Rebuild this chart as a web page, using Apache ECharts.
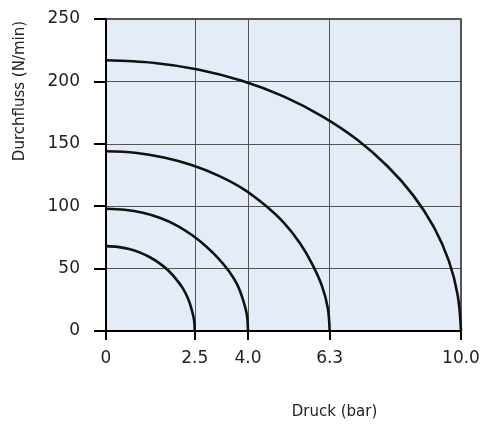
<!DOCTYPE html>
<html>
<head>
<meta charset="utf-8">
<script src="https://cdn.jsdelivr.net/npm/echarts@6/dist/echarts.min.js"></script>
<style>html,body{margin:0;padding:0;background:#fff}#c{width:484px;height:425px}</style>
</head>
<body>
<div id="c"></div>
<script>
var xTicks = [0, 2.5, 4.0, 6.3, 10.0];
var xTickLabels = ['0', '2.5', '4.0', '6.3', '10.0'];
var yTicks = [0, 50, 100, 150, 200, 250];

var c1x = [0, 0.33, 0.65, 0.96, 1.25, 1.52, 1.77, 1.98, 2.17, 2.31, 2.41, 2.48, 2.5];
var c1y = [68, 67.4, 65.7, 62.8, 58.9, 54, 48.1, 41.4, 34, 26, 17.6, 8.9, 0];

var c2x = [0, 0.52, 1.04, 1.53, 2.0, 2.44, 2.83, 3.17, 3.46, 3.70, 3.86, 3.97, 4.0];
var c2y = [98, 97.2, 94.7, 90.5, 84.5, 76.5, 67.5, 58, 48, 37, 25, 12.6, 0];

var c3x = [0, 0.82, 1.63, 2.41, 3.15, 3.84, 4.45, 5.0, 5.46, 5.82, 6.09, 6.25, 6.3];
var c3y = [144, 142.8, 139, 133, 124.7, 114.3, 101.5, 87, 70.5, 53, 35.5, 18, 0];

var c4x = [0, 1.31, 2.59, 3.83, 5.0, 6.09, 7.07, 7.93, 8.66, 9.24, 9.66, 9.91, 10.0];
var c4y = [217, 215, 209.6, 200.5, 188, 172, 153.4, 132, 108.5, 83, 56, 28.3, 0];

function pairs(xs, ys) { return xs.map(function (v, i) { return [v, ys[i]]; }); }

var chart = echarts.init(document.getElementById('c'), null, {renderer: 'canvas'});
var curveStyle = {color: '#111', width: 2.6};
function curve(xs, ys) {
  return {type: 'line', data: pairs(xs, ys), showSymbol: false, smooth: 0.33,
          lineStyle: curveStyle, silent: true, animation: false};
}
var labelFont = {fontFamily: 'DejaVu Sans', fontSize: 17, color: '#222'};
chart.setOption({
  animation: false,
  grid: {left: 106, right: 23, top: 19, bottom: 94, show: true, outerBoundsMode: 'none',
         containLabel: false,
         backgroundColor: '#e4edf7', borderColor: '#222', borderWidth: 1.5},
  xAxis: {
    type: 'value', min: 0, max: 10,
    axisLine: {show: true, onZero: false, lineStyle: {color: '#000', width: 2}},
    axisTick: {show: true, length: 9, lineStyle: {color: '#000', width: 2}, customValues: xTicks},
    axisLabel: Object.assign({margin: 19, customValues: xTicks,
      formatter: function (v) { var i = xTicks.indexOf(v); return i >= 0 ? xTickLabels[i] : ''; }}, labelFont),
    splitLine: {show: true, lineStyle: {color: '#555', width: 1}},
    name: 'Druck (bar)', nameLocation: 'middle', nameGap: 74,
    nameTextStyle: {fontFamily: 'DejaVu Sans', fontSize: 15, color: '#222', padding: [0, 0, 0, 102]}
  },
  yAxis: {
    type: 'value', min: 0, max: 250, interval: 50,
    axisLine: {show: true, onZero: false, lineStyle: {color: '#000', width: 2}},
    axisTick: {show: true, length: 12, lineStyle: {color: '#000', width: 2}},
    axisLabel: Object.assign({margin: 26}, labelFont),
    splitLine: {show: true, lineStyle: {color: '#555', width: 1}}
  },
  graphic: [{
    type: 'text', x: 20, y: 91, rotation: Math.PI / 2,
    style: {text: 'Durchfluss (N/min)', font: '15px "DejaVu Sans"', fill: '#222',
            align: 'center', verticalAlign: 'middle'}
  }],
  series: [curve(c1x, c1y), curve(c2x, c2y), curve(c3x, c3y), curve(c4x, c4y)]
});
</script>
</body>
</html>
